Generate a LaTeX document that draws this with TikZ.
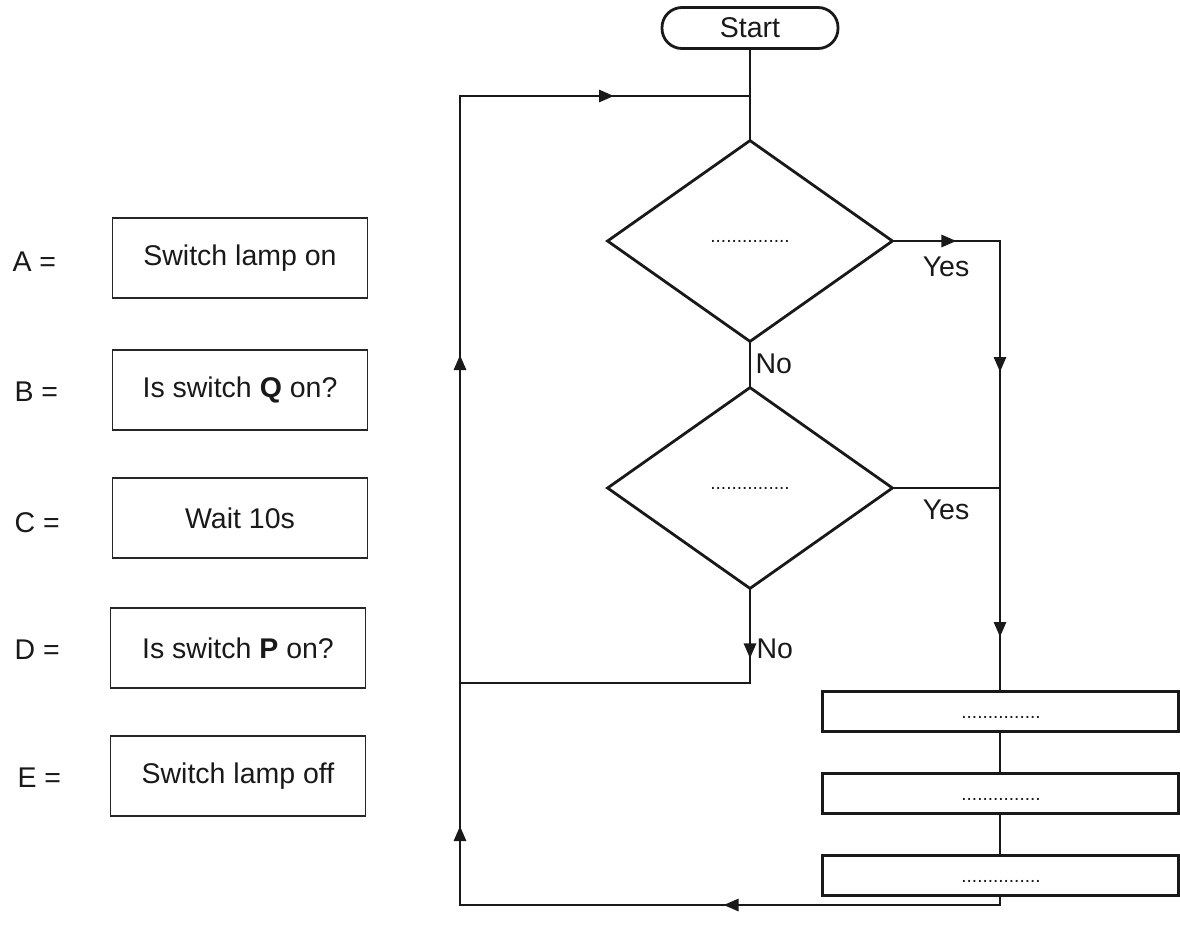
\documentclass[tikz,border=0pt]{standalone}
\usepackage{fontspec}
\setmainfont{Liberation Sans}
\usetikzlibrary{shapes.geometric,arrows.meta,decorations.markings}
\begin{document}
\begin{tikzpicture}[x=1pt,y=-1pt,
  every node/.style={font=\fontsize{28.5}{32}\selectfont, text=black!90},
  flow/.style={line width=2.8pt, draw=black!90, line cap=rect},
  optbox/.style={draw=black!85, line width=1.4pt, minimum width=255pt, minimum height=80pt, inner sep=0pt},
  stepbox/.style={draw=black!90, line width=3pt, minimum width=356pt, minimum height=40pt, inner sep=0pt},
  decbox/.style={draw=black!90, line width=2.8pt, shape=diamond, minimum width=286pt, minimum height=202pt, inner sep=0pt},
  startbox/.style={draw=black!90, line width=2.8pt, rounded corners=20pt, minimum width=176pt, minimum height=41pt, inner sep=0pt},
  dots/.style={font=\fontsize{19}{20}\selectfont},
  lbl/.style={anchor=center},
  tip/.style={postaction={decorate,decoration={markings,mark=at position #1 with {\arrow{Triangle[length=15pt,width=12pt]}}}}},
  tiptwo/.style 2 args={postaction={decorate,decoration={markings,
     mark=at position #1 with {\arrow{Triangle[length=15pt,width=12pt]}},
     mark=at position #2 with {\arrow{Triangle[length=15pt,width=12pt]}}}}}
]
\useasboundingbox (0,0) rectangle (1180,938);

% legend
\node[anchor=west] (la) at (9,262) {A =};
\node[anchor=west] (lb) at (11,392) {B =};
\node[anchor=west] (lc) at (11,523) {C =};
\node[anchor=west] (ld) at (11,650) {D =};
\node[anchor=west] (le) at (14,778) {E =};
\node[optbox] (ba) at (240,258) {Switch lamp on};
\node[optbox] (bb) at (240,390) {Is switch \textbf{Q} on?};
\node[optbox] (bc) at (240,518) {Wait 10s};
\node[optbox] (bd) at (238,648) {Is switch \textbf{P} on?};
\node[optbox] (be) at (238,776) {Switch lamp off};

% flowchart nodes
\node[startbox] (start) at (750,28) {Start};
\node[decbox] (d1) at (750,241) {};
\node[decbox] (d2) at (750,488) {};
\node[dots] (t1) at (750,241) {...............};
\node[dots] (t2) at (750,488) {...............};
\node[stepbox] (r1) at (1000,711) {};
\node[stepbox] (r2) at (1000,793) {};
\node[stepbox] (r3) at (1000,875) {};
\node[dots] (t3) at (1001,717) {...............};
\node[dots] (t4) at (1001,799) {...............};
\node[dots] (t5) at (1001,881) {...............};

\coordinate (j1) at (750,96);
\coordinate (yr1) at (d1.east -| r1.north);
\coordinate (yr2) at (d2.east -| r1.north);
\coordinate (nb) at (750,683);
\coordinate (nl) at (460,683);
\coordinate (br) at (1000,905);
\coordinate (bl) at (460,905);
\coordinate (tl) at (460,96);

% connectors
\draw[flow] (start.south) -- (d1.north);
\draw[flow] (d1.south) -- (d2.north);
\draw[flow, tip=62pt] (d1.east) -- (yr1);
\draw[flow, tiptwo={131pt}{396pt}] (yr1) -- (r1.north);
\draw[flow] (d2.east) -- (yr2);
\draw[flow, tip=68pt] (d2.south) -- (nb) -- (nl);
\draw[flow] (r1.south) -- (r2.north);
\draw[flow] (r2.south) -- (r3.north);
\draw[flow, tip=285pt] (r3.south) -- (br) -- (bl);
\draw[flow, tiptwo={79pt}{550pt}] (bl) -- (tl);
\draw[flow, tip=154pt] (tl) -- (j1);

% labels
\node[lbl] (y1) at (946,267) {Yes};
\node[lbl] (y2) at (946,510) {Yes};
\node[anchor=west] (n1) at (752,364) {No};
\node[anchor=west] (n2) at (753,649) {No};
\end{tikzpicture}
\end{document}
